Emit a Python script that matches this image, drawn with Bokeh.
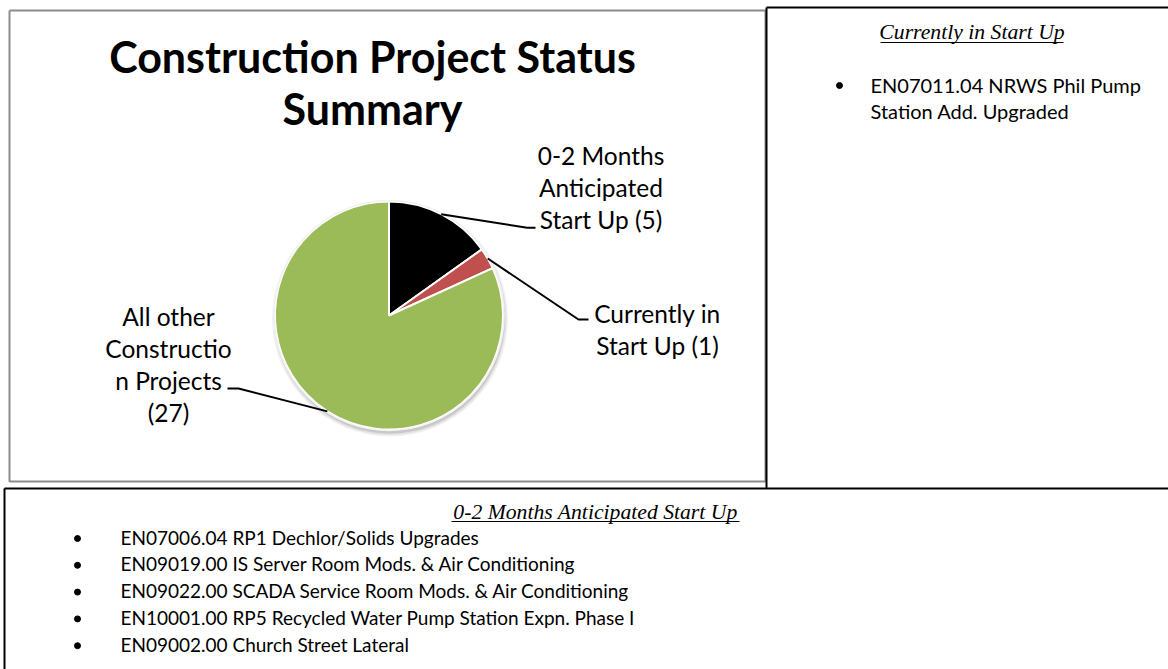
import math
from bokeh.plotting import figure
from bokeh.models import Range1d
from bokeh.core.properties import value
from bokeh.embed import file_html
from bokeh.resources import INLINE

# ---------------- data ----------------
categories = ["0-2 Months Anticipated Start Up", "Currently in Start Up",
              "All other Construction Projects"]
counts = [5, 1, 27]
slice_colors = ["#000000", "#C0504D", "#9BBB59"]
label_lines = [["0-2 Months", "Anticipated", "Start Up (5)"],
               ["Currently in", "Start Up (1)"],
               ["All other", "Constructio", "n Projects", "(27)"]]
title_lines = ["Construction Project Status", "Summary"]
current_header = "Currently in Start Up"
current_items = [["EN07011.04 NRWS Phil Pump", "Station Add. Upgraded"]]
upcoming_header = "0-2 Months Anticipated Start Up"
upcoming_items = ["EN07006.04 RP1 Dechlor/Solids Upgrades",
                  "EN09019.00  IS Server Room Mods. & Air Conditioning",
                  "EN09022.00  SCADA Service Room Mods. & Air Conditioning",
                  "EN10001.00  RP5 Recycled Water Pump Station Expn. Phase I",
                  "EN09002.00  Church Street Lateral"]

W, H = 1168, 669
def Y(y):
    return H - y

p = figure(width=W, height=H, output_backend="svg", toolbar_location=None,
           x_range=Range1d(0, W), y_range=Range1d(0, H), min_border=0)
p.axis.visible = False
p.grid.visible = False
p.outline_line_color = None
p.background_fill_color = "white"
p.border_fill_color = "white"

SANS = value("Lato")
SERIF = value("Liberation Serif")

# ---------------- boxes ----------------
p.multi_line(xs=[[9, 765, 765, 9, 9]], ys=[[Y(10), Y(10), Y(481), Y(481), Y(10)]],
             line_color="#8c8c8c", line_width=2)
p.multi_line(xs=[[766, 766], [766, 1168]], ys=[[Y(488), Y(7)], [Y(7), Y(7)]],
             line_color="black", line_width=2)
p.multi_line(xs=[[4, 1168], [4, 4]], ys=[[Y(488), Y(488)], [Y(488), Y(669)]],
             line_color="black", line_width=2)

# ---------------- title ----------------
for i, t in enumerate(title_lines):
    p.text(x=[372], y=[Y(56 + 52 * i)], text=[t], text_font=SANS, text_font_style="bold",
           text_font_size="43px", text_align="center", text_baseline="middle",
           text_color="black")

# ---------------- pie ----------------
cx, cy, r = 388.5, Y(315), 114
total = sum(counts)
starts, ends, mids = [], [], []
acc = 0
for c in counts:
    a0 = math.pi / 2 - 2 * math.pi * acc / total
    acc += c
    a1 = math.pi / 2 - 2 * math.pi * acc / total
    starts.append(a0); ends.append(a1); mids.append((a0 + a1) / 2)

# soft shadow
for dr, al in [(4, 0.10), (2.5, 0.15), (1, 0.25)]:
    p.circle(x=[cx + 1], y=[cy - 3], radius=r + dr, fill_color="#7f7f7f",
             fill_alpha=al, line_color=None)

p.wedge(x=cx, y=cy, radius=r, start_angle=starts, end_angle=ends, direction="clock",
        fill_color=slice_colors, line_color="white", line_width=2)
p.circle(x=[cx], y=[cy], radius=r + 1, fill_color=None, line_color="#f2f2f2", line_width=1.5)

# leader lines (start at the slice's mid-angle on the rim)
elbows = [((526.7, 227.3), (535, 227.3)),
          ((578, 319), (588, 319)),
          ((238, 388), (227, 388))]
lx, ly = [], []
for m, (e1, e2) in zip(mids, elbows):
    lx.append([cx + r * math.cos(m), e1[0], e2[0]])
    ly.append([cy + r * math.sin(m), Y(e1[1]), Y(e2[1])])
p.multi_line(xs=lx, ys=ly, line_color="black", line_width=2)

# slice labels
label_pos = [(600.5, 154.5), (657, 312.5), (168, 316)]
for (x0, c0), lines in zip(label_pos, label_lines):
    for j, t in enumerate(lines):
        p.text(x=[x0], y=[Y(c0 + 32 * j)], text=[t], text_font=SANS,
               text_font_size="24.5px", text_align="center", text_baseline="middle",
               text_color="black")

# ---------------- right panel ----------------
p.text(x=[971.5], y=[Y(31.5)], text=[current_header], text_font=SERIF,
       text_font_style="italic", text_font_size="21.7px", text_align="center",
       text_baseline="middle", text_color="black")
p.line(x=[880, 1063], y=[Y(42), Y(42)], line_color="black", line_width=1)
for item in current_items:
    p.scatter(x=[839], y=[Y(85)], size=6, marker="circle", fill_color="black", line_color="black")
    for j, t in enumerate(item):
        p.text(x=[870], y=[Y(84 + 26 * j)], text=[t], text_font=SANS,
               text_font_size="20px", text_align="left", text_baseline="middle",
               text_color="black")

# ---------------- bottom panel ----------------
p.text(x=[595], y=[Y(511)], text=[upcoming_header], text_font=SERIF,
       text_font_style="italic", text_font_size="21.7px", text_align="center",
       text_baseline="middle", text_color="black")
p.line(x=[451, 739], y=[Y(521), Y(521)], line_color="black", line_width=1)
for i, t in enumerate(upcoming_items):
    yc = 536.5 + 26.8 * i
    p.scatter(x=[77], y=[Y(yc + 1.5)], size=6, marker="circle", fill_color="black", line_color="black")
    p.text(x=[120], y=[Y(yc)], text=[t], text_font=SANS, text_font_size="19px",
           text_align="left", text_baseline="middle", text_color="black")

open("out.html", "w").write(file_html(p, INLINE))
